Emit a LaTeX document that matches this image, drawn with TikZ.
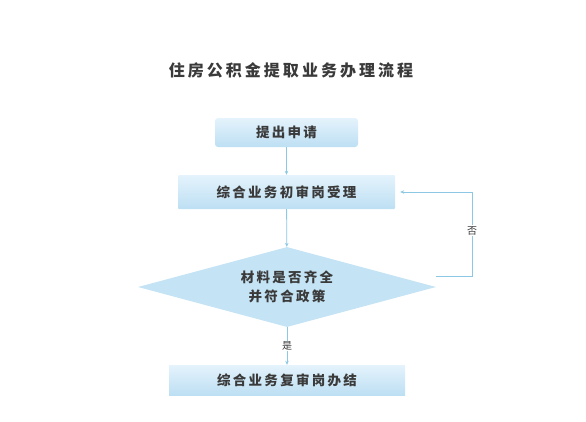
\documentclass[tikz,border=0pt]{standalone}
\usepackage{fontspec}
\usepackage{tikz}
\usetikzlibrary{positioning,arrows.meta,shapes.geometric,calc}
\newfontfamily\cjk[LetterSpace=17]{Noto Sans CJK SC}
\newfontfamily\cjktitle[LetterSpace=19]{Noto Sans CJK SC}
\definecolor{ink}{HTML}{3A3A3A}
\definecolor{flow}{HTML}{8CC8E4}
\definecolor{boxtop}{HTML}{E4F3FC}
\definecolor{boxbot}{HTML}{BDDFF3}
\definecolor{diafill}{HTML}{C4E3F5}
\tikzset{
  ttl/.style={font=\cjktitle\bfseries\fontsize{16bp}{18bp}\selectfont,text=ink},
  blk/.style={rectangle,rounded corners=3bp,top color=boxtop,bottom color=boxbot,
    draw=none,align=center,inner sep=0pt,text=ink,
    font=\cjk\bfseries\fontsize{13.5bp}{16bp}\selectfont},
  dia/.style={diamond,shape aspect=3.7,fill=diafill,draw=none,align=center,
    inner sep=0pt,minimum width=298bp,minimum height=80bp,text=ink,
    font=\cjk\bfseries\fontsize{13.5bp}{19bp}\selectfont},
  ar/.style={-{Stealth[length=4bp,width=3.5bp]},line width=0.8bp,draw=flow},
  lbl/.style={fill=white,inner sep=1bp,text=ink,
    font=\cjk\fontsize{10bp}{12bp}\selectfont},
}
\begin{document}
\begin{tikzpicture}[x=1bp,y=-1bp]
  \useasboundingbox (0,0) rectangle (586,421);
  \node[ttl] (title) at (291,70) {住房公积金提取业务办理流程};
  % main column
  \node[blk,minimum width=143bp,minimum height=29bp] (apply) at (286.5,132.5) {提出申请};
  \node[blk,minimum width=217bp,minimum height=34bp,rounded corners=1bp] (first) at (286.5,192) {综合业务初审岗受理};
  \node[dia] (check) at (287,287) {材料是否齐全\\并符合政策};
  \node[blk,minimum width=236bp,minimum height=30bp,rounded corners=0pt] (final) at (287,380) {综合业务复审岗办结};
  \draw[ar] (apply) -- (first);
  \draw[ar] (first) -- (check);
  \draw[ar] (check) -- node[lbl] (yes) {是} (final);
  % back to first check when incomplete
  \coordinate (back) at ($(check.east)+(0,-11)$);
  \draw[ar,shorten >=5bp] (back) -- ++(36,0) |- node[lbl,pos=0.27] (no) {否} (first.east);
\end{tikzpicture}
\end{document}
